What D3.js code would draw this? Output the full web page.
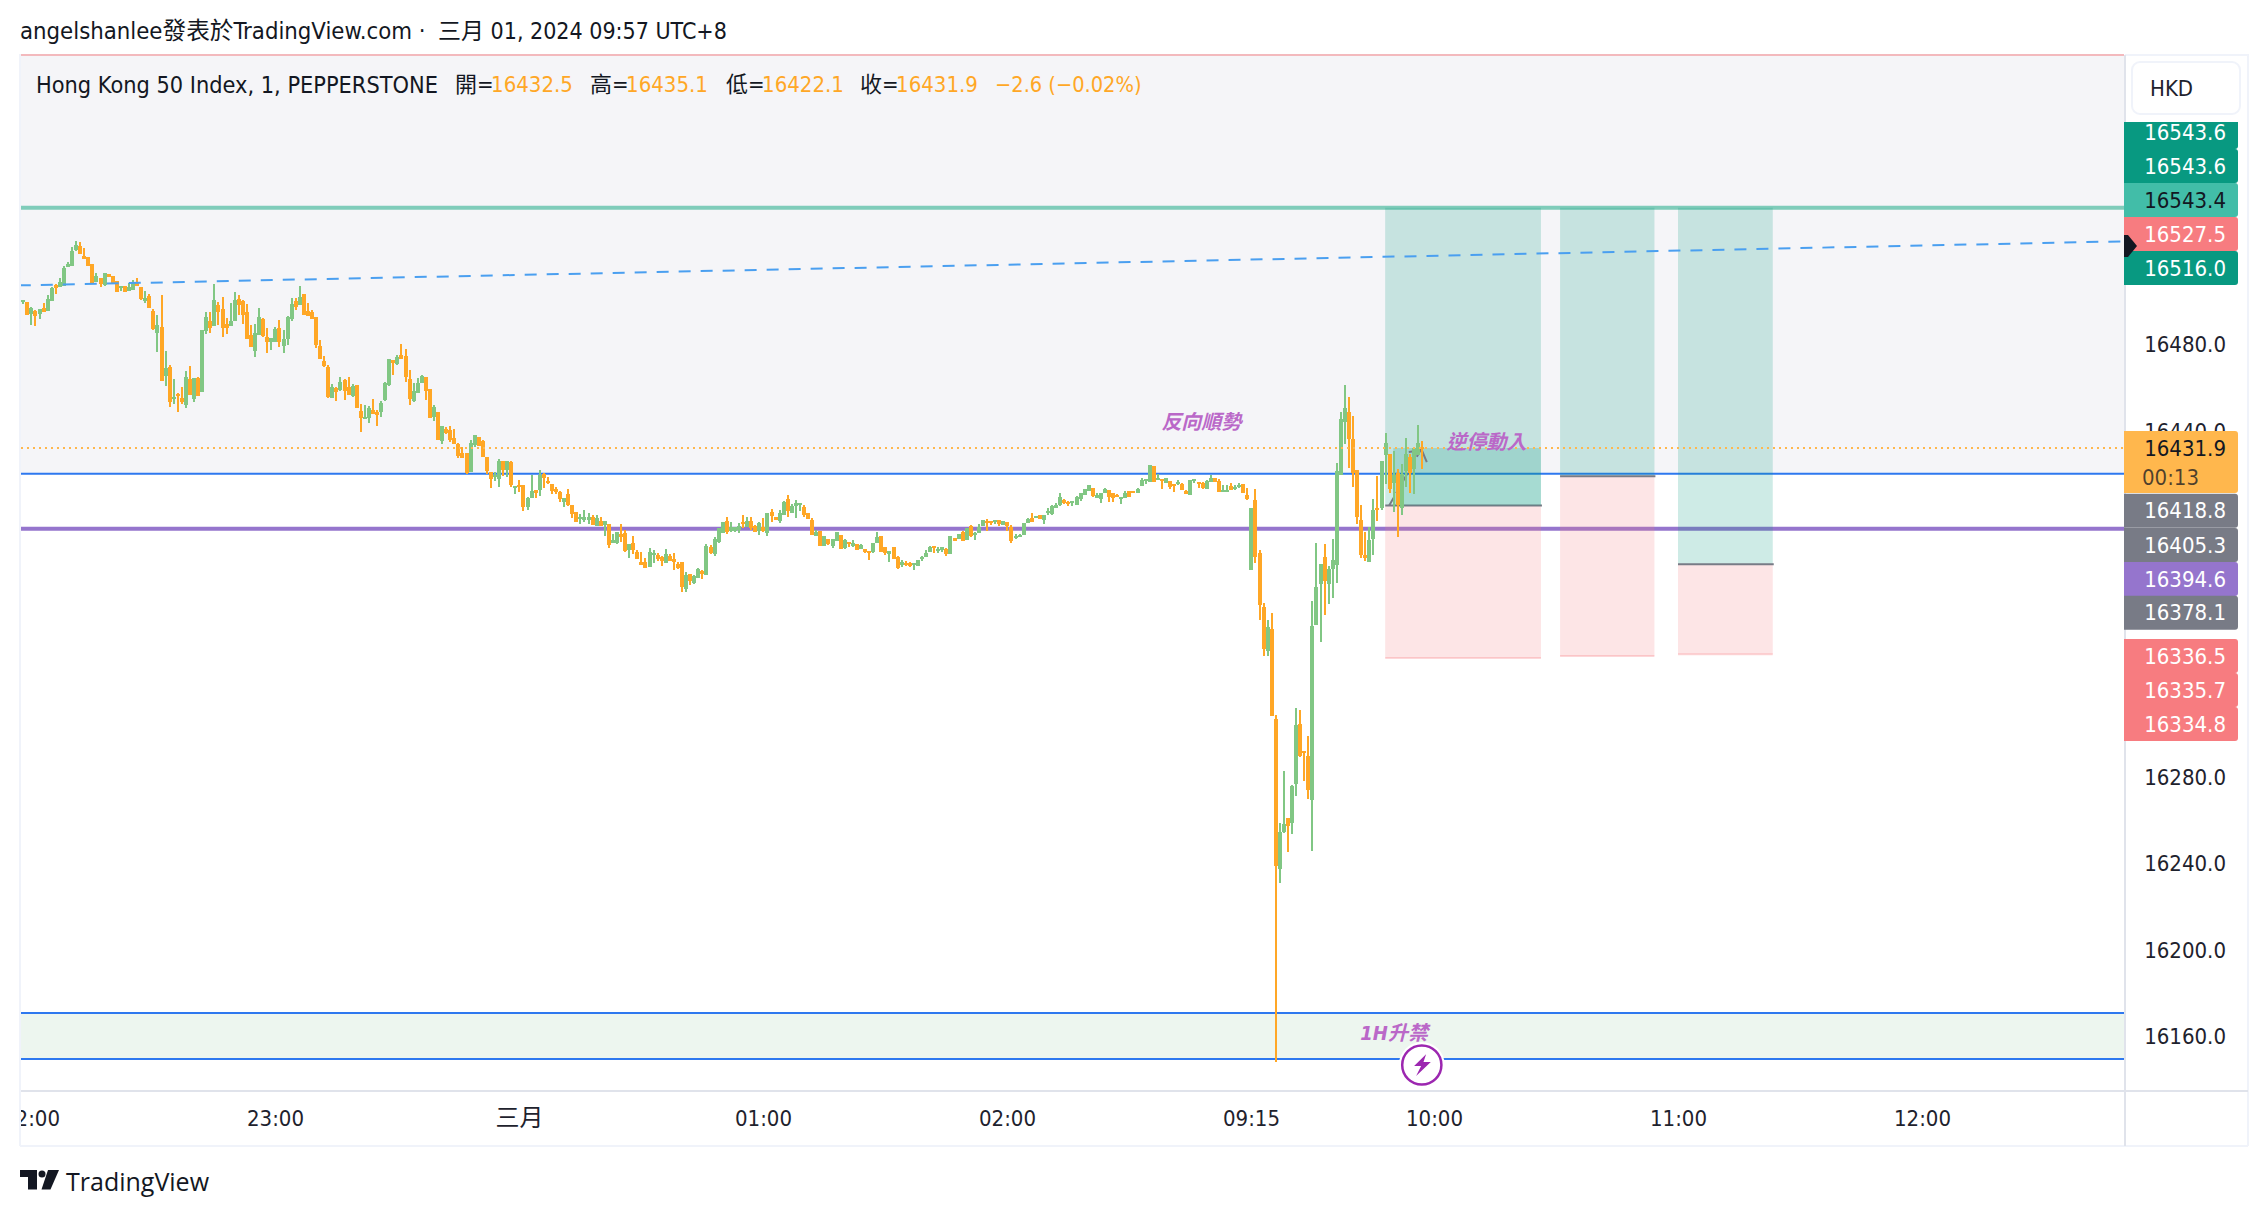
<!DOCTYPE html>
<html>
<head>
<meta charset="utf-8">
<script src="https://cdn.jsdelivr.net/npm/d3@7"></script>
<style>
    html, body { margin: 0; padding: 0; background: #fff; overflow: hidden; }
    svg { display: block; }
    text { font-family: 'DejaVu Sans Condensed', 'DejaVu Sans', 'Noto Sans CJK TC', sans-serif; font-stretch: condensed; }
</style>
</head>
<body>
<main></main>
<script>
// prices are stored as points above this base, one minute per bar, first bar at minute -3 (21:57)
const priceBase = 16000;
const firstBar = -3;

const opens = [
    499.5,499.4,499.4,493.8,495.2,493.8,496.6,495.2,499.9,507.3,
    506.5,506.8,515.4,516,523.4,525.3,520.7,520.2,517,508.6,
    510.5,507.3,512.3,511.4,509.1,505.9,506.8,504.5,504.9,508.6,
    506.3,499.9,502.2,495.2,485.1,487.8,465.2,469.3,454.5,456.9,
    455,451.8,463.8,454.5,464.3,457.8,486,490.6,488.3,498,
    496.2,489.2,488.3,490.6,500.8,499.9,494.8,484.1,476.7,484.1,
    491.5,483.2,480.9,480.9,487.4,479,482.3,491.5,499.9,498,
    503.1,495.2,494.8,492.5,479,472.1,469.3,455,459.6,458.7,
    463.3,460.1,455.9,461,449,445.3,445.8,449.5,448.5,448.5,
    454.1,461,472.6,470.7,474.9,474.4,463.8,453.6,457.3,462,
    464.7,459.2,446.2,448.5,435.1,440.7,440.2,436.5,433.8,429.6,
    429.6,420.8,433.3,437,435.1,427.7,420.8,418.5,417.6,425.9,
    421.7,425.4,413.4,414.8,414.8,404.6,408.8,412.5,412.5,419.9,
    416.7,415.3,413,411.6,406.9,410.6,405.6,402.3,399.1,398.6,
    398.6,400,395.8,398.1,396.3,396.8,388,388,392.1,392.6,
    384.8,388,383.8,379.2,379.2,376.9,382.4,382.4,381.5,378.7,
    382,380.6,378.3,379.2,366.7,373.7,369.5,371.8,375,373.2,
    386.1,382.9,388.5,392.6,398.1,393.5,393.5,394,397.7,395.4,
    398.1,395.8,393.5,395.4,392.6,402.3,400,398.2,400.9,408.3,
    401.9,405.1,406,404.6,401.9,398.6,391.2,393.5,386.6,389.8,
    386.6,388.9,391.7,385.7,388.4,386.6,387.5,385.2,385.2,384.3,
    383.8,388,391.2,386.1,382.9,386.1,381.5,377.8,378.7,378.7,
    377.8,377.3,380.6,381.5,383.8,386.6,384.3,384.7,385.2,382.9,
    390.3,389.8,393.1,389.4,395.8,391.7,392.6,395.8,398.1,398.1,
    397.7,398.6,396.3,397.7,395.4,390.3,390.8,391.7,397.2,399.5,
    399.5,400.9,398.6,401.9,401.4,404.2,405.5,407.9,406.9,406.5,
    405.5,408.3,410.2,412,413.4,408.8,408.3,411.1,412.5,411.1,
    410.2,408.8,408.8,412,412,411.1,414.3,416.6,416.2,423.6,
    417.1,417.6,415.7,416.6,415.3,415.3,415.3,412,410.2,416.6,
    416.2,415.7,412.9,416.2,418,416.6,412,412,414.3,412.9,
    413.9,415.3,410.2,375.5,407.9,383.4,358.4,338.1,348.3,306.6,
    237.2,254.3,260.8,258.5,276.5,304.3,291.8,289.5,269.1,350.1,
    369.1,381.5,369.1,376,377.9,419.5,444,448.6,436.1,421.8,
    398.7,382.5,379.2,389.9,404.2,404.2,428.7,429.2,415.8,420.4,
    404.2,421.3,427.8,422.2,428.7,432.5
];

const highs = [
    499.5,500.3,499.4,497.1,495.7,496.2,498.9,502.6,506.3,507.7,
    510.5,516,517.9,524.8,527.6,527.1,524.4,520.2,517,512.8,
    510.5,512.8,512.3,511.4,509.1,506.8,506.8,508.2,509.6,510.5,
    506.3,504.5,503.1,496.2,493.4,502.6,476.7,470.3,463.8,457.3,
    460.1,467.5,469.8,464.3,464.7,486.4,494.8,494.8,507.7,499.4,
    501.7,492,498.9,504,502.6,500.3,498.5,488.8,489.2,496.6,
    492,487.4,482.7,487.8,491.1,486.4,492.9,501.2,501.2,506.8,
    503.1,498.9,495.7,492.5,481.8,474.4,470.3,461.5,460.1,464.7,
    463.8,464.7,461.5,461,452.2,451.8,451.3,454.5,449.5,453.6,
    462.4,473,472.6,474.9,480,477.7,467.9,461.9,464.3,465.7,
    464.7,459.2,451.8,448.5,442.1,441.6,442.1,440.7,434.2,432.4,
    429.6,435.6,437.9,437,435.6,427.7,420.8,420.8,426.8,425.9,
    425.9,425.9,414.3,417.1,414.8,409.3,419.4,412.5,421.7,420.3,
    418.5,415.3,413.9,412,408.8,413,405.6,402.3,401.4,403.2,
    401.9,400.9,400.9,400,398.1,396.8,392.1,393.1,396.8,394,
    387.5,391.2,384.8,383.8,381.1,385.7,384.8,383.4,382,385.2,
    382.9,383.4,379.2,379.2,374.6,373.7,373.2,376.4,375.5,387.5,
    387.1,390.8,394.9,397.7,400,397.7,395.4,397.2,400.9,400,
    400,396.3,397.7,399.5,401.9,403.7,400,403.2,407.4,410.2,
    406,407.9,406.5,405.6,401.9,399.5,394,393.5,391.2,389.8,
    389.8,393.1,391.7,389.8,388.4,389.4,387.5,387.5,385.2,384.3,
    388,393.1,391.2,386.1,384.3,386.1,382,380.1,379.7,379.2,
    378.7,380.1,382,384.7,386.6,386.6,386.1,386.1,385.7,391.2,
    390.3,392.1,393.5,394.9,396.3,393.1,396.8,398.6,399.1,398.1,
    398.6,398.6,398.1,397.7,396.3,392.1,392.1,397.2,399.5,401.9,
    400.5,400.9,400.9,404.2,405.5,406.5,411.1,408.3,407.4,407.4,
    409.7,411.1,412.9,414.8,413.4,411.1,411.1,413.4,412.5,411.1,
    410.6,409.2,412,412,412,413.4,418,417.6,424,423.6,
    419.9,417.6,418,416.6,415.3,417.1,415.7,412.5,417.1,417.6,
    416.2,416.2,417.1,419.4,418,417.6,414.8,414.8,415.7,414.8,
    415.7,415.3,413.4,404.2,413,384.8,360.3,352.4,355.7,308.4,
    258.5,282.5,260.8,276,311.7,310.7,291.8,298.7,361.2,388,
    378.3,387.6,377.4,389.9,425,448.6,461.1,455.5,446.7,421.8,
    405.6,393.1,395.4,408.4,419,425.9,438.9,429.2,430.6,422.2,
    424.5,436.6,429.2,431.9,442.6,435.1
];

const lows = [
    498,498.5,493.4,488.8,488.3,491.5,494.9,495.2,499.9,503.1,
    506.5,506.8,515.4,516,523,521.6,519.3,516,508.2,508.6,
    506.3,506.8,510.9,507.7,504,504.5,504,504.5,504.9,506.8,
    500.3,498.9,496.6,486.4,476.3,462.9,460.6,450.8,452.2,448.5,
    452.2,450.4,456.4,453.2,455.9,457.8,484.6,485.1,488.3,488.8,
    483.2,484.6,488.3,490.6,493.4,489.2,482.3,478.6,474,484.1,
    483.2,475.8,477.2,480.9,478.6,475.8,479.5,490.6,495.7,498,
    493.4,492.9,491.5,478.1,473,469.3,455,455,453.6,458.2,
    454.1,456.4,455.5,450.4,439.3,445.3,443.5,447.6,442,446.2,
    453.6,460.6,465.6,470.3,473,462.4,451.8,453.2,457.3,462,
    454.1,445.8,444.4,435.6,433.8,438.4,434.7,433.8,427.3,427.3,
    419.9,420.8,432.4,432.8,427.7,419.9,413.4,416.7,413.9,419,
    418.5,413.9,410.6,411.6,402.8,403.2,408.8,408.8,409.7,413.4,
    415.3,410.6,410.6,406.9,404.6,405.1,399.5,397.7,396.8,397.7,
    396.8,396.3,395.8,395.8,391.2,385.7,388,387.5,388.5,383.8,
    381.1,382.9,380.6,377.8,376.4,376.9,378.7,379.7,377.4,378.7,
    379.7,375.5,376,365.3,365.3,368.6,369,371.8,371.3,373.2,
    382.9,382,388,392.6,392.1,393.1,393.1,392.6,394.9,395.4,
    394,393.1,391.7,393.1,391.2,397.7,398.6,397.2,400.9,400,
    401.9,399.5,402.8,400,399.1,391.7,391.2,386.6,386.6,387.1,
    385.7,388.9,385.2,385.2,386.1,386.1,384.7,385.2,383.4,380.1,
    383.4,388,383.8,382.4,379.2,380.6,376,376.9,377.3,376.9,
    375.5,377.3,379.7,381.5,383.8,383.4,383.4,383.8,382,382.9,
    388.9,389.8,388.9,389.4,390.8,389.4,392.6,395.8,393.5,396.3,
    396.8,395.8,396.3,393.5,388,389.8,390.8,391.7,397.2,397.7,
    399.5,399.1,396.8,400.9,400.9,404.2,405.1,406,405.1,405.1,
    405.5,407.4,410.2,412,409.2,408.8,406.5,411.1,406.9,406.9,
    409.2,406,408.8,409.2,411.1,411.1,414.3,415.3,416.2,416.2,
    417.1,412.9,415.7,412.9,411.6,414.8,412.5,410.6,410.2,415.7,
    413.4,412.9,412.9,416.2,416.2,411.6,412,412,412.5,412.5,
    413.4,411.1,407.9,375.5,378.8,352.4,335.8,335.8,308,148.2,
    230.8,253.9,245.1,253.4,271,289,277.9,269.6,245.6,350.1,
    342.3,354.7,359.8,362.6,369.5,419.5,433.8,422.7,413.9,396.8,
    381.1,379.7,379.2,382.5,398.2,403.3,415.3,411.1,402.4,390.8,
    401,413.9,411.1,410.7,428.7,422.1
];

const closes = [
    498,500.3,493.4,496.6,493.1,496.2,494.9,500.8,505.9,505.9,
    508.6,515.1,517,523,525.7,521.6,519.3,516,508.2,511.4,
    507.7,512.8,510.9,508.2,504,506.8,504,506.3,508.2,506.8,
    500.8,501.2,496.6,486.8,488.8,462.9,468.9,453.2,455.5,455.9,
    453.2,464.7,456.4,464.3,455.9,486.4,492.5,487.4,500.3,494.8,
    487.4,487.4,490.6,500.3,498,493.4,482.3,478.6,485.1,492.5,
    483.7,480.9,482.7,486.9,480.9,482.3,492.5,498.5,497.1,501.7,
    493.4,492.9,491.5,479.5,473,469.8,455.5,460.1,457.8,462.4,
    458.2,456.4,460.6,450.4,445.8,446.2,450.4,447.6,447.2,452.7,
    461.9,473,471.2,474,473,464.7,454.5,458.2,461.9,465.2,
    458.3,445.8,450.9,435.6,442.1,438.8,435.6,433.8,428.2,427.3,
    420.3,434.2,437.9,432.8,427.7,421.3,417.6,419.4,425.9,421.7,
    425.9,414.8,414.3,413.9,404.6,408.8,412,411.1,419.4,418,
    415.7,412,411.6,408.3,408.8,405.6,401.4,397.7,400,400,
    400,396.3,399.5,395.8,398.1,387.1,389.4,393.1,390.8,384.3,
    387.5,384.8,380.6,377.8,376.4,383.8,383.4,380.6,379.7,382.9,
    379.7,379.2,376.4,367.6,373.2,370.4,372.7,376,373.7,386.6,
    383.4,389.8,394.9,397.7,393.1,395.4,395.4,395.8,396.8,398.1,
    394.9,393.1,397.2,393.5,401.9,400.5,398.6,401.9,406.9,402.8,
    405.1,406.5,406.5,400.9,399.1,391.7,393.1,386.6,391.2,387.5,
    389.8,393.1,385.2,389.4,387.5,388,384.7,387.1,383.8,383.4,
    388,390.8,383.8,383.4,384.3,380.6,376.4,379.2,377.8,377.3,
    378.7,380.1,381.5,383.4,386.1,385.7,385.2,386.1,382.9,391.2,
    388.9,392.1,388.9,394.9,391.2,392.6,395.4,398.6,397.2,397.2,
    398.6,396.8,398.1,395.8,388.9,391.2,391.7,397.2,399.1,397.7,
    400.5,399.1,400.9,402.8,405.1,405.5,409.2,406.5,406,407.4,
    409.2,411.1,412.9,414.8,409.7,410.2,411.1,412.9,409.2,408.8,
    409.2,409.2,411.1,409.2,411.1,412.9,417.1,417.6,424,416.2,
    418,416.6,418,413.9,414.3,416.2,412.5,410.6,417.1,417.6,
    415.3,413.4,416.6,418,416.2,411.6,412.5,412.5,412.5,413.9,
    414.8,411.1,408.3,404.2,381.5,359.4,339,349.2,308,238.6,
    254.3,258,257.1,275.6,303.8,289.5,290.9,273.8,349.7,367.7,
    378.3,370.5,376,380.2,421.3,445.3,450.4,436.1,420.4,400,
    382.5,381.1,389.4,403.3,403.3,425.9,434.3,413,419.5,405.6,
    419.9,429.2,420.4,431.9,434.3,431.9
];

const priceTicks = [16480, 16440, 16280, 16240, 16200, 16160];
const timeTicks = [0, 60, 120, 180, 240, 300, 345, 405, 465];
const timeLabels = ['22:00', '23:00', '三月', '01:00', '02:00', '09:15', '10:00', '11:00', '12:00'];

// drawn levels and zones
const targetLevel = 16543;
const tealLevel = 16543;
const blueLevel = 16420;
const purpleLevel = 16394.6;
const lastPrice = 16431.9;
const zoneTop = 16170.6;
const zoneBottom = 16149.4;
const bandTop = 16613.6;

// dashed trend line ends: bar, price
const trendBars = [-3, 515];
const trendPrices = [16507.1, 16527.5];

// long position tools
const posStartBars = [333, 376, 405];
const posEndBars = [371.3, 399.2, 428.3];
const posEntries = [16405.3, 16418.8, 16378.1];
const posStops = [16334.8, 16335.7, 16336.5];
const openProfitStartBar = 335;
const lastBar = 342;

const notes = ['反向順勢', '逆停動入', '1H升禁'];
const noteBars = [287.8, 357.9, 335.2];
const notePrices = [16443.7, 16434.6, 16161.6];

const badgeValues = ['16543.6', '16543.6', '16543.4', '16527.5', '16516.0', '16418.8', '16405.3', '16394.6', '16378.1', '16336.5', '16335.7', '16334.8'];
const headerValues = ['16432.5', '16435.1', '16422.1', '16431.9'];
const headerKeys = ['開=', '高=', '低=', '收='];

const GREEN = '#81c784';
const ORANGE = '#ffa726';
const INK = '#131722';
const TICK_FONT = 22;

const xScale = d3.scaleLinear().domain([0, 465]).range([31, 1922]);
const yScale = d3.scaleLinear().domain([16480, 16160]).range([344, 1036]);

const plotLeft = 21;
const plotRight = 2124;
const plotBottom = 1090;

const svg = d3.select('main')
    .append('svg')
    .attr('width', 2268)
    .attr('height', 1216);

const defs = svg.append('defs');
defs.append('clipPath').attr('id', 'plot-clip')
    .append('rect').attr('x', plotLeft).attr('y', 55).attr('width', plotRight - plotLeft).attr('height', plotBottom - 55);
defs.append('clipPath').attr('id', 'time-clip')
    .append('rect').attr('x', plotLeft).attr('y', 1091).attr('width', plotRight - plotLeft).attr('height', 54);
defs.append('clipPath').attr('id', 'badge-clip')
    .append('rect').attr('x', 2124).attr('y', 122).attr('width', 120).attr('height', 640);

const plot = svg.append('g').attr('clip-path', 'url(#plot-clip)');

// shaded band above the blue level
plot.append('rect')
    .attr('x', plotLeft).attr('width', plotRight - plotLeft)
    .attr('y', yScale(bandTop))
    .attr('height', yScale(blueLevel) - yScale(bandTop))
    .attr('fill', '#f5f5f8');

// demand zone at the bottom
plot.append('rect')
    .attr('x', plotLeft).attr('width', plotRight - plotLeft)
    .attr('y', yScale(zoneTop))
    .attr('height', yScale(zoneBottom) - yScale(zoneTop))
    .attr('fill', '#edf6ef');

const hLine = (price, color, width) => {
    plot.append('line')
        .attr('x1', plotLeft).attr('x2', plotRight)
        .attr('y1', yScale(price)).attr('y2', yScale(price))
        .attr('stroke', color)
        .attr('stroke-width', width);
};

hLine(tealLevel, '#7fccba', 4);
hLine(blueLevel, '#2e78ef', 2);
hLine(purpleLevel, '#9575cd', 4);
hLine(zoneTop, '#2e78ef', 2);
hLine(zoneBottom, '#2e78ef', 2);

// position boxes
posEntries.forEach((entry, i) => {
    const x0 = xScale(posStartBars[i]);
    const x1 = xScale(posEndBars[i]);
    plot.append('rect')
        .attr('x', x0).attr('width', x1 - x0)
        .attr('y', yScale(targetLevel))
        .attr('height', yScale(entry) - yScale(targetLevel))
        .attr('fill', 'rgba(8,153,129,0.2)');
    plot.append('rect')
        .attr('x', x0).attr('width', x1 - x0)
        .attr('y', yScale(entry))
        .attr('height', yScale(posStops[i]) - yScale(entry))
        .attr('fill', 'rgba(247,124,128,0.2)');
    plot.append('line')
        .attr('x1', x0).attr('x2', x1)
        .attr('y1', yScale(posStops[i])).attr('y2', yScale(posStops[i]))
        .attr('stroke', 'rgba(247,124,128,0.3)')
        .attr('stroke-width', 2);
    plot.append('line')
        .attr('x1', x0).attr('x2', x1 + 1)
        .attr('y1', yScale(entry)).attr('y2', yScale(entry))
        .attr('stroke', '#787b86')
        .attr('stroke-width', 2);
});

// open profit of the running position
plot.append('rect')
    .attr('x', xScale(openProfitStartBar))
    .attr('width', xScale(posEndBars[0]) - xScale(openProfitStartBar))
    .attr('y', yScale(lastPrice))
    .attr('height', yScale(posEntries[0]) - yScale(lastPrice))
    .attr('fill', 'rgba(8,153,129,0.2)');

// path of the running position with its arrow head
const arrowX = xScale(lastBar);
const arrowY = yScale(lastPrice);
plot.append('line')
    .attr('x1', xScale(posStartBars[0]) + 4).attr('y1', yScale(posEntries[0]))
    .attr('x2', arrowX).attr('y2', arrowY)
    .attr('stroke', '#787b86')
    .attr('stroke-width', 2)
    .attr('stroke-dasharray', '9,5');
plot.append('path')
    .attr('d', `M${arrowX - 13},${arrowY + 4}L${arrowX},${arrowY + 2}L${arrowX + 5},${arrowY + 14}`)
    .attr('fill', 'none')
    .attr('stroke', '#787b86')
    .attr('stroke-width', 2);

// candles
const bars = d3.range(opens.length).map((i) => ({
    bar: firstBar + i,
    open: priceBase + opens[i],
    high: priceBase + highs[i],
    low: priceBase + lows[i],
    close: priceBase + closes[i]
}));

const candles = plot.append('g')
    .attr('shape-rendering', 'crispEdges')
    .selectAll('g')
    .data(bars)
    .enter()
    .append('g')
    .attr('fill', (d) => (d.close >= d.open ? GREEN : ORANGE));

candles.append('rect')
    .attr('x', (d) => Math.round(xScale(d.bar) + 0.4) - 1)
    .attr('width', 2)
    .attr('y', (d) => yScale(d.high))
    .attr('height', (d) => Math.max(1, yScale(d.low) - yScale(d.high)));

candles.append('rect')
    .attr('x', (d) => Math.round(xScale(d.bar) + 0.4) - 2)
    .attr('width', 4)
    .attr('y', (d) => yScale(Math.max(d.open, d.close)))
    .attr('height', (d) => Math.max(2, Math.abs(yScale(d.open) - yScale(d.close))));

// last price line
plot.append('line')
    .attr('x1', plotLeft).attr('x2', plotRight)
    .attr('y1', yScale(lastPrice)).attr('y2', yScale(lastPrice))
    .attr('stroke', '#ffb74d')
    .attr('stroke-width', 2)
    .attr('stroke-dasharray', '2,4');

// dashed trend line
plot.append('path')
    .datum(trendBars.map((b, i) => [b, trendPrices[i]]))
    .attr('d', d3.line().x((d) => xScale(d[0])).y((d) => yScale(d[1])))
    .attr('fill', 'none')
    .attr('stroke', '#4a9ff0')
    .attr('stroke-width', 2)
    .attr('stroke-dasharray', '12,10');

// hand written notes
plot.selectAll('.note')
    .data(notes)
    .enter()
    .append('text')
    .attr('class', 'note')
    .attr('x', (d, i) => xScale(noteBars[i]))
    .attr('y', (d, i) => yScale(notePrices[i]))
    .attr('text-anchor', 'middle')
    .attr('dominant-baseline', 'central')
    .attr('font-size', 20)
    .attr('font-weight', 700)
    .attr('font-style', 'italic')
    .attr('fill', '#ba68c8')
    .text((d) => d);

// lightning event marker on the time axis
const markerG = plot.append('g').attr('transform', `translate(${xScale(lastBar)},1065)`);
markerG.append('circle').attr('r', 23).attr('fill', '#fff');
markerG.append('circle').attr('r', 19.6).attr('fill', '#fff').attr('stroke', '#9c27b0').attr('stroke-width', 2.5);
markerG.append('path')
    .attr('d', 'M4.3,-10.7L-7.7,1L-0.7,1L-5.7,11L9,-3L1.7,-3Z')
    .attr('fill', '#9c27b0');

// pink top edge of the band
svg.append('line')
    .attr('x1', plotLeft).attr('x2', plotRight)
    .attr('y1', 55).attr('y2', 55)
    .attr('stroke', '#f3b9bd')
    .attr('stroke-width', 2);

// frame
const frameLine = (x1, y1, x2, y2, color) => {
    svg.append('line')
        .attr('x1', x1).attr('y1', y1).attr('x2', x2).attr('y2', y2)
        .attr('stroke', color)
        .attr('stroke-width', 2);
};
frameLine(20, 54, 20, 1146, '#f0f3fa');
frameLine(2248, 54, 2248, 1146, '#f0f3fa');
frameLine(2125, 55, 2248, 55, '#f0f3fa');
frameLine(20, 1146, 2248, 1146, '#f0f3fa');
frameLine(2125, 55, 2125, 1146, '#e0e3eb');
frameLine(21, 1091, 2248, 1091, '#e0e3eb');

// time axis
const timeAxis = svg.append('g')
    .attr('clip-path', 'url(#time-clip)')
    .append('g')
    .attr('transform', 'translate(0, 1091)')
    .call(
        d3.axisBottom(xScale)
            .tickValues(timeTicks)
            .tickFormat((d, i) => timeLabels[i])
            .tickSize(0)
            .tickPadding(0)
    );
timeAxis.select('.domain').remove();
timeAxis.selectAll('text')
    .attr('y', 27)
    .attr('dy', null)
    .attr('dominant-baseline', 'central')
    .attr('font-size', (d, i) => (timeLabels[i] === '三月' ? 24 : TICK_FONT))
    .attr('fill', '#1e222d');

// price axis
const priceAxis = svg.append('g')
    .attr('transform', 'translate(2226, 0)')
    .call(
        d3.axisLeft(yScale)
            .tickValues(priceTicks)
            .tickFormat(d3.format('.1f'))
            .tickSize(0)
            .tickPadding(0)
    );
priceAxis.select('.domain').remove();
priceAxis.selectAll('text')
    .attr('dy', null)
    .attr('dominant-baseline', 'central')
    .attr('font-size', TICK_FONT)
    .attr('fill', '#1e222d');

// currency button
svg.append('rect')
    .attr('x', 2132).attr('y', 62)
    .attr('width', 108).attr('height', 52)
    .attr('rx', 8)
    .attr('fill', '#fff')
    .attr('stroke', '#f0f3fa')
    .attr('stroke-width', 2);
svg.append('text')
    .attr('x', 2150).attr('y', 88)
    .attr('dominant-baseline', 'central')
    .attr('font-size', TICK_FONT)
    .attr('fill', '#1e222d')
    .text('HKD');

// price badges
const badgeCenters = [132, 166, 200, 234, 268, 510.7, 545, 579, 612.7, 656, 690, 724];
const badgeFills = ['#089981', '#089981', '#42bda8', '#f77c80', '#089981', '#787b86', '#787b86', '#9575cd', '#787b86', '#f77c80', '#f77c80', '#f77c80'];
const badges = svg.append('g').attr('clip-path', 'url(#badge-clip)');

const badgeRows = badges.selectAll('g')
    .data(badgeValues)
    .enter()
    .append('g')
    .attr('transform', (d, i) => `translate(0, ${badgeCenters[i]})`);
badgeRows.append('rect')
    .attr('x', 2116).attr('y', -17)
    .attr('width', 122).attr('height', 34)
    .attr('rx', 3)
    .attr('fill', (d, i) => badgeFills[i]);
badgeRows.append('text')
    .attr('x', 2226)
    .attr('text-anchor', 'end')
    .attr('dominant-baseline', 'central')
    .attr('font-size', TICK_FONT)
    .attr('fill', (d, i) => (i === 2 ? INK : '#fff'))
    .text((d) => d);

// last price badge with countdown
badges.append('rect')
    .attr('x', 2116).attr('y', 431)
    .attr('width', 122).attr('height', 62)
    .attr('rx', 3)
    .attr('fill', '#ffb74d');
badges.append('text')
    .attr('x', 2226).attr('y', 448)
    .attr('text-anchor', 'end')
    .attr('dominant-baseline', 'central')
    .attr('font-size', TICK_FONT)
    .attr('fill', INK)
    .text(d3.format('.1f')(lastPrice));
badges.append('text')
    .attr('x', 2142).attr('y', 477)
    .attr('dominant-baseline', 'central')
    .attr('font-size', TICK_FONT)
    .attr('fill', INK)
    .attr('fill-opacity', 0.75)
    .text('00:13');

// black marker where the trend line meets the scale
svg.append('path')
    .attr('d', 'M2124,235H2128L2137,246L2128,257H2124Z')
    .attr('fill', INK);

// title
svg.append('text')
    .attr('x', 20).attr('y', 31)
    .attr('dominant-baseline', 'central')
    .attr('font-size', 23.7)
    .attr('fill', INK)
    .text('angelshanlee發表於TradingView.com ·');
svg.append('text')
    .attr('x', 438).attr('y', 31)
    .attr('dominant-baseline', 'central')
    .attr('font-size', 23)
    .attr('fill', INK)
    .text('三月 01, 2024 09:57 UTC+8');

// legend line
const legendY = 84;
svg.append('text')
    .attr('x', 36).attr('y', legendY)
    .attr('dominant-baseline', 'central')
    .attr('font-size', 23.3)
    .attr('fill', INK)
    .text('Hong Kong 50 Index, 1, PEPPERSTONE');

const legendX = [455, 590, 726, 860];
headerValues.forEach((value, i) => {
    const t = svg.append('text')
        .attr('x', legendX[i]).attr('y', legendY)
        .attr('dominant-baseline', 'central')
        .attr('font-size', 22)
        .attr('fill', INK);
    t.append('tspan').text(headerKeys[i]);
    t.append('tspan').attr('dx', -2.5).attr('fill', '#ffa726').text(value);
});
svg.append('text')
    .attr('x', 995).attr('y', legendY)
    .attr('dominant-baseline', 'central')
    .attr('font-size', 21.6)
    .attr('fill', '#ffa726')
    .text('−2.6 (−0.02%)');

// footer logo
const logo = svg.append('g').attr('fill', INK);
logo.append('path').attr('d', 'M20,1170H37V1189.5H28V1177H20Z');
logo.append('circle').attr('cx', 42).attr('cy', 1174).attr('r', 3.5);
logo.append('path').attr('d', 'M48,1170H59L50.5,1189.5H41.5Z');
svg.append('text')
    .attr('x', 66).attr('y', 1181)
    .attr('dominant-baseline', 'central')
    .attr('font-size', 25)
    .style('font-family', "'Open Sans', sans-serif")
    .style('font-stretch', 'normal')
    .attr('fill', INK)
    .text('TradingView');
</script>
</body>
</html>
